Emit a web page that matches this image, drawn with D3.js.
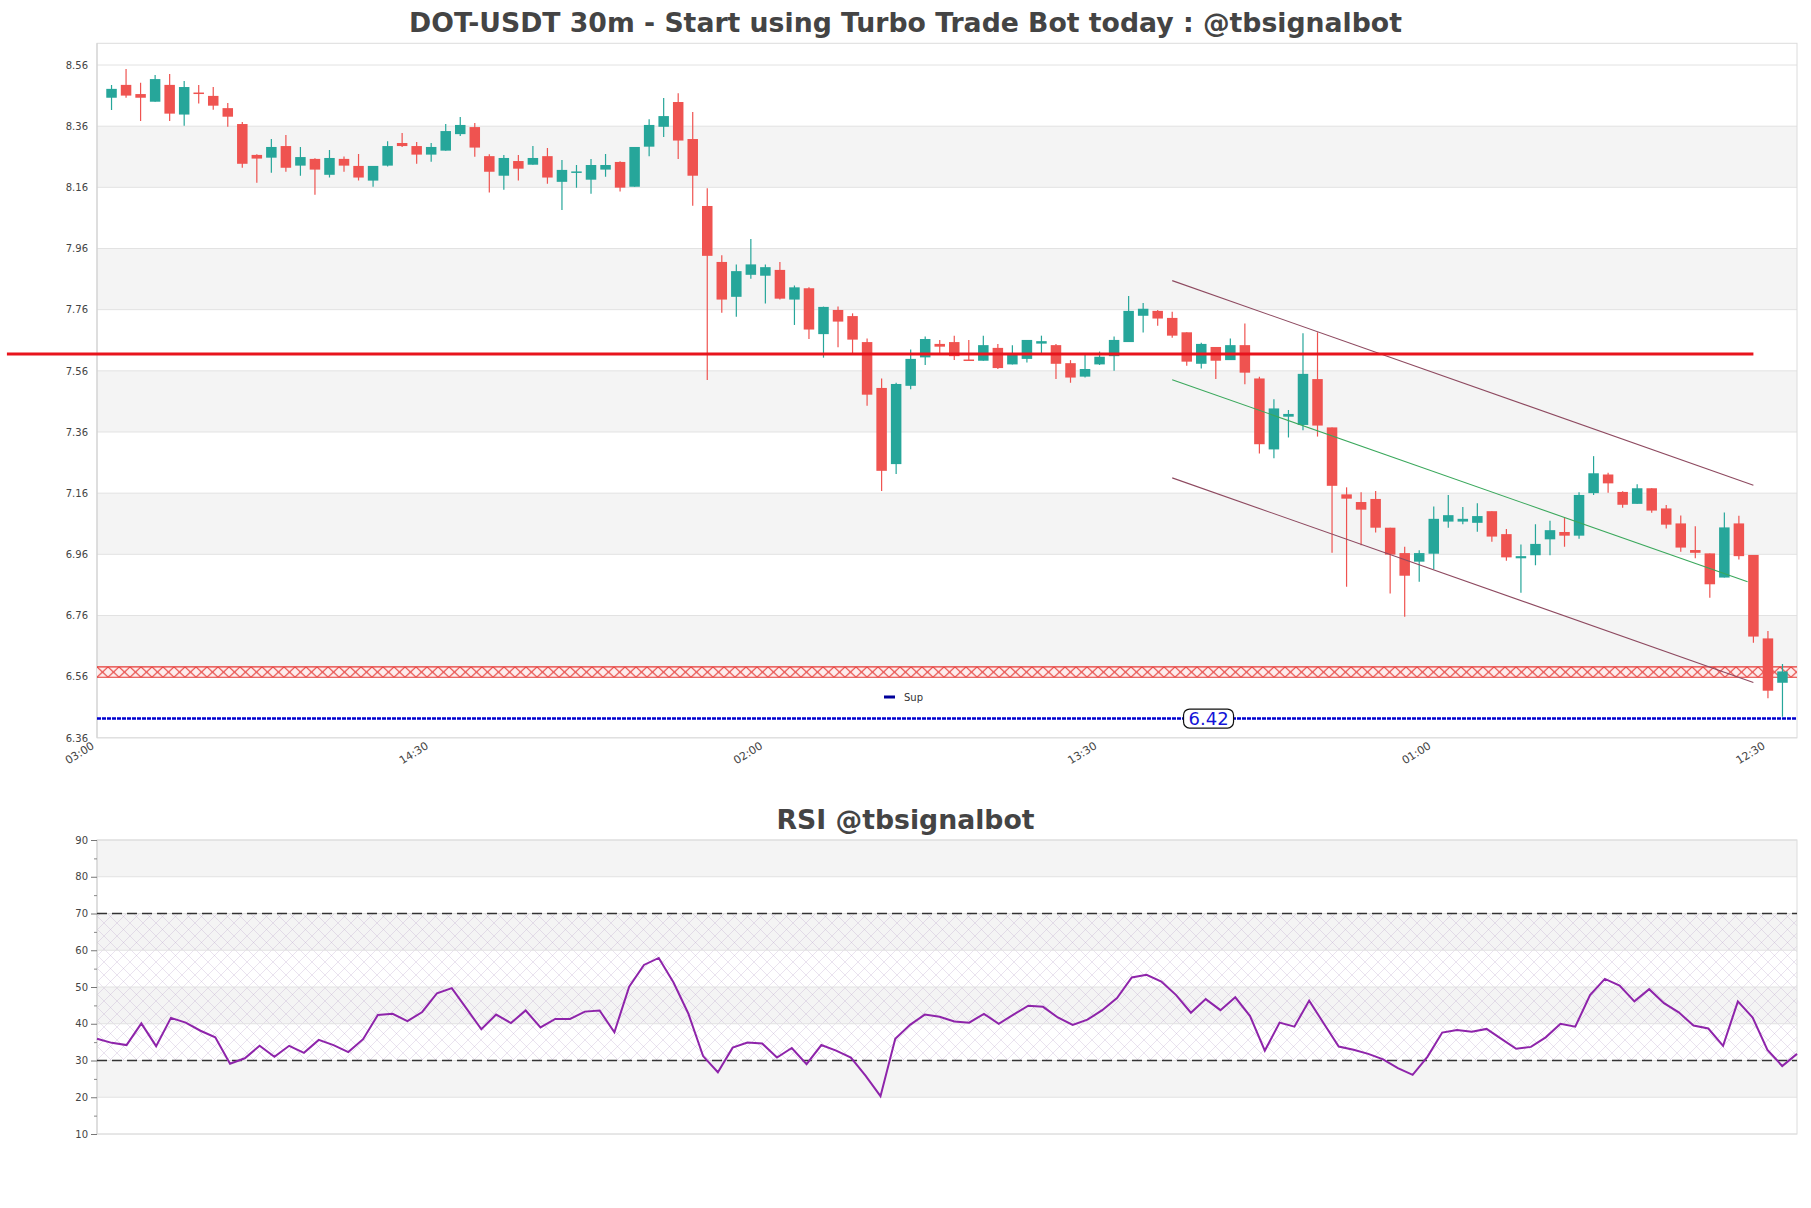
<!DOCTYPE html>
<html><head><meta charset="utf-8">
<script src="https://cdn.jsdelivr.net/npm/d3@7"></script>
<style>body{margin:0;background:#fff;} svg{display:block;font-family:"DejaVu Sans",sans-serif;}</style>
</head><body><svg id="c" width="1811" height="1208"></svg>
<script>
// ---------------- DATA ----------------
const titleText = "DOT-USDT 30m - Start using Turbo Trade Bot today : @tbsignalbot";
const rsiTitleText = "RSI @tbsignalbot";
const tickIdx = [0, 23, 46, 69, 92, 115];
const tickLabels = ["03:00", "14:30", "02:00", "13:30", "01:00", "12:30"];
const priceTicks = [6.36, 6.56, 6.76, 6.96, 7.16, 7.36, 7.56, 7.76, 7.96, 8.16, 8.36, 8.56];
const rsiTicks = [10, 20, 30, 40, 50, 60, 70, 80, 90];
const rsiMinor = [15, 25, 35, 45, 55, 65, 75, 85];
const rsiLevels = [30, 70];

const open = [8.453,8.495,8.465,8.440,8.495,8.398,8.470,8.459,8.419,8.367,
8.266,8.257,8.295,8.231,8.253,8.201,8.253,8.230,8.182,8.231,
8.305,8.295,8.267,8.280,8.334,8.357,8.262,8.198,8.246,8.234,
8.262,8.178,8.208,8.185,8.218,8.243,8.162,8.293,8.358,8.439,
8.318,8.099,7.916,7.802,7.874,7.871,7.890,7.793,7.830,7.680,
7.759,7.739,7.654,7.504,7.255,7.511,7.604,7.648,7.654,7.597,
7.593,7.635,7.581,7.599,7.649,7.644,7.585,7.541,7.581,7.608,
7.654,7.740,7.756,7.733,7.686,7.583,7.638,7.595,7.644,7.535,
7.303,7.410,7.383,7.533,7.375,7.156,7.131,7.141,7.047,6.964,
6.936,6.962,7.067,7.067,7.063,7.101,7.026,6.947,6.957,7.009,
7.033,7.021,7.160,7.221,7.164,7.125,7.176,7.110,7.061,6.974,
6.963,6.884,7.061,6.958,6.685,6.540];
const high = [8.495,8.547,8.502,8.527,8.531,8.508,8.495,8.488,8.436,8.374,
8.268,8.318,8.331,8.292,8.255,8.282,8.261,8.269,8.230,8.311,
8.338,8.308,8.305,8.367,8.390,8.370,8.268,8.266,8.266,8.295,
8.289,8.249,8.233,8.253,8.269,8.245,8.292,8.383,8.452,8.468,
8.406,8.157,7.938,7.908,7.991,7.908,7.916,7.839,7.833,7.770,
7.770,7.748,7.666,7.535,7.521,7.630,7.672,7.661,7.675,7.661,
7.675,7.648,7.644,7.661,7.675,7.648,7.595,7.615,7.623,7.672,
7.805,7.782,7.759,7.753,7.686,7.652,7.638,7.666,7.715,7.541,
7.467,7.432,7.683,7.686,7.375,7.179,7.163,7.167,7.047,6.985,
6.973,7.116,7.154,7.115,7.127,7.101,7.043,6.992,7.058,7.070,
7.080,7.163,7.281,7.227,7.166,7.189,7.176,7.121,7.087,7.052,
6.963,7.097,7.086,6.958,6.709,6.601];
const low = [8.413,8.453,8.377,8.440,8.377,8.361,8.434,8.414,8.358,8.224,
8.175,8.208,8.211,8.198,8.136,8.192,8.211,8.182,8.162,8.228,
8.292,8.237,8.244,8.280,8.328,8.260,8.143,8.152,8.182,8.234,
8.172,8.086,8.159,8.139,8.195,8.146,8.162,8.262,8.325,8.253,
8.100,7.530,7.750,7.737,7.861,7.780,7.793,7.710,7.664,7.603,
7.637,7.612,7.446,7.167,7.223,7.500,7.579,7.615,7.595,7.593,
7.593,7.566,7.581,7.587,7.612,7.533,7.521,7.538,7.579,7.560,
7.654,7.685,7.707,7.668,7.577,7.568,7.533,7.595,7.516,7.290,
7.274,7.342,7.366,7.345,6.965,6.854,6.990,7.031,6.832,6.756,
6.870,6.911,7.047,7.058,7.034,7.001,6.939,6.834,6.924,6.957,
6.985,7.011,7.154,7.161,7.112,7.125,7.096,7.044,6.968,6.947,
6.818,6.884,6.943,6.671,6.489,6.429];
const close = [8.482,8.460,8.453,8.514,8.401,8.488,8.467,8.427,8.391,8.237,
8.254,8.292,8.224,8.259,8.218,8.256,8.231,8.192,8.230,8.295,
8.295,8.267,8.292,8.344,8.364,8.290,8.211,8.256,8.221,8.256,
8.192,8.217,8.212,8.233,8.233,8.159,8.292,8.364,8.393,8.313,
8.198,7.936,7.793,7.886,7.908,7.899,7.796,7.833,7.695,7.769,
7.721,7.662,7.482,7.233,7.517,7.599,7.664,7.639,7.608,7.593,
7.644,7.569,7.615,7.661,7.657,7.583,7.538,7.566,7.606,7.661,
7.756,7.763,7.731,7.675,7.590,7.648,7.593,7.644,7.554,7.320,
7.437,7.419,7.550,7.381,7.184,7.142,7.106,7.047,6.959,6.890,
6.964,7.076,7.088,7.076,7.085,7.018,6.950,6.954,6.994,7.039,
7.021,7.154,7.225,7.192,7.122,7.176,7.103,7.057,6.982,6.965,
6.862,7.048,6.954,6.691,6.514,6.577];
const rsi = [35.9,34.8,34.2,40.1,33.9,41.6,40.3,38.1,36.3,29.1,
30.6,34.0,31.0,34.0,32.1,35.6,34.2,32.3,35.8,42.4,
42.7,40.7,43.2,48.3,49.7,44.1,38.5,42.5,40.2,43.6,
39.0,41.3,41.3,43.3,43.6,37.7,50.1,56.0,57.9,51.2,
42.8,31.2,26.8,33.5,34.9,34.6,30.8,33.4,29.0,34.2,
32.7,30.8,25.8,20.3,35.9,39.7,42.5,41.9,40.6,40.3,
42.7,40.0,42.5,44.9,44.6,41.7,39.7,41.1,43.7,47.0,
52.6,53.3,51.5,47.8,43.0,46.7,43.7,47.2,42.1,32.7,
40.3,39.2,46.3,40.0,33.8,32.9,31.8,30.3,27.9,26.1,
31.0,37.6,38.3,37.8,38.6,35.9,33.2,33.7,36.3,40.0,
39.2,47.8,52.2,50.4,46.1,49.4,45.6,43.1,39.5,38.7,
34.0,46.1,41.7,32.9,28.5,31.8];

const resistanceLevel = 7.615;
const resistanceSpan = [-7.2, 113];
const supportZone = [6.558, 6.592];
const supportLevel = 6.423;
const supportLabel = "6.42";
const supportLabelIdx = 75.5;
const legendName = "Sup";
const channelUpper = [[73, 7.855], [113, 7.186]];
const channelMid = [[73, 7.531], [112.6, 6.870]];
const channelLower = [[73, 7.210], [113, 6.541]];

// ---------------- LAYOUT ----------------
const L = 97, R = 1797;
const T = 43.3, B = 737.8;
const RT = 840, RB = 1134;
const svg = d3.select("#c");
const defs = svg.append("defs");

const x = d3.scaleLinear().domain([-1, 116]).range([L, R]);
const y = d3.scaleLinear().domain([6.36, 8.631]).range([B, T]);
const rx = d3.scaleLinear().domain([0, 115]).range([L, R]);
const ry = d3.scaleLinear().domain([10, 90]).range([RB, RT]);

// patterns
const zTop = y(supportZone[1]), zBot = y(supportZone[0]), zh = zBot - zTop;
const pw = 11;
const pz = defs.append("pattern").attr("id", "zoneHatch").attr("patternUnits", "userSpaceOnUse")
  .attr("x", L).attr("y", zTop).attr("width", pw).attr("height", zh);
pz.append("rect").attr("width", pw).attr("height", zh).attr("fill", "#fdeded");
pz.append("path").attr("d", `M0,0L${pw},${zh}M${pw},0L0,${zh}`).attr("stroke", "#e53935").attr("stroke-width", 1.1).attr("fill", "none");

const ph = defs.append("pattern").attr("id", "rsiHatch").attr("patternUnits", "userSpaceOnUse")
  .attr("width", 13).attr("height", 13);
ph.append("path").attr("d", "M0,0L13,13M13,0L0,13").attr("stroke", "rgba(175,150,195,0.38)").attr("stroke-width", 0.7).attr("fill", "none");

const clip = defs.append("clipPath").attr("id", "mainClip");
clip.append("rect").attr("x", L).attr("y", T).attr("width", R - L).attr("height", B - T);

// ---------------- TITLES ----------------
svg.append("text").attr("x", 905.5).attr("y", 32).attr("text-anchor", "middle")
  .attr("font-size", 26.7).attr("font-weight", "bold").attr("fill", "#444").text(titleText);
svg.append("text").attr("x", 905.5).attr("y", 829).attr("text-anchor", "middle")
  .attr("font-size", 26.7).attr("font-weight", "bold").attr("fill", "#444").text(rsiTitleText);

// ---------------- MAIN CHART ----------------
const main = svg.append("g");
for (let i = 0; i < priceTicks.length - 1; i++) {
  if (i % 2 === 1) {
    main.append("rect").attr("x", L).attr("width", R - L)
      .attr("y", y(priceTicks[i + 1])).attr("height", y(priceTicks[i]) - y(priceTicks[i + 1]))
      .attr("fill", "#f4f4f4");
  }
}
main.selectAll(".grid").data(priceTicks).join("line")
  .attr("x1", L).attr("x2", R).attr("y1", d => y(d)).attr("y2", d => y(d))
  .attr("stroke", "#e2e2e2").attr("stroke-width", 1);
main.append("rect").attr("x", L).attr("y", T).attr("width", R - L).attr("height", B - T)
  .attr("fill", "none").attr("stroke", "#dcdcdc").attr("stroke-width", 1);
main.append("line").attr("x1", L).attr("x2", L).attr("y1", T).attr("y2", B).attr("stroke", "#cfcfcf");

const yAx = main.append("g").attr("transform", `translate(${L},0)`)
  .call(d3.axisLeft(y).tickValues(priceTicks).tickFormat(d3.format(".2f")).tickSize(0).tickPadding(9));
yAx.select(".domain").remove();
yAx.selectAll("text").attr("font-size", 10).attr("fill", "#444").attr("font-family", "DejaVu Sans");

const xAx = main.append("g").attr("transform", `translate(0,${B})`)
  .call(d3.axisBottom(x).tickValues(tickIdx).tickFormat((d, i) => tickLabels[i]).tickSize(0));
xAx.select(".domain").remove();
xAx.selectAll("text").attr("y", 0).attr("dy", 0).attr("text-anchor", "end")
  .attr("transform", "translate(-17,10) rotate(-32)")
  .attr("font-size", 11).attr("fill", "#444").attr("font-family", "DejaVu Sans");

// support zone
main.append("rect").attr("x", L).attr("width", R - L).attr("y", zTop).attr("height", zh)
  .attr("fill", "url(#zoneHatch)");
[zTop, zBot].forEach(v => main.append("line").attr("x1", L).attr("x2", R).attr("y1", v).attr("y2", v)
  .attr("stroke", "#e53935").attr("stroke-width", 1.2));

// candles
const candles = d3.range(open.length).map(i => ({i, o: open[i], h: high[i], l: low[i], c: close[i]}));
const cg = main.append("g").attr("clip-path", "url(#mainClip)");
const bw = 10.5;
cg.selectAll(".wick").data(candles).join("line")
  .attr("x1", d => x(d.i)).attr("x2", d => x(d.i))
  .attr("y1", d => y(d.h)).attr("y2", d => y(d.l))
  .attr("stroke", d => d.c >= d.o ? "#26a69a" : "#ef5350").attr("stroke-width", 1.2);
cg.selectAll(".body").data(candles).join("rect")
  .attr("x", d => x(d.i) - bw / 2).attr("width", bw)
  .attr("y", d => y(Math.max(d.o, d.c)))
  .attr("height", d => Math.max(1.5, Math.abs(y(d.o) - y(d.c))))
  .attr("fill", d => d.c >= d.o ? "#26a69a" : "#ef5350");

// channel lines
const ln = d3.line().x(d => x(d[0])).y(d => y(d[1]));
main.append("path").attr("d", ln(channelUpper)).attr("stroke", "#8e4a60").attr("stroke-width", 1.1).attr("fill", "none");
main.append("path").attr("d", ln(channelLower)).attr("stroke", "#8e4a60").attr("stroke-width", 1.1).attr("fill", "none");
main.append("path").attr("d", ln(channelMid)).attr("stroke", "#3aa85c").attr("stroke-width", 1.1).attr("fill", "none");

// resistance line
main.append("line").attr("x1", x(resistanceSpan[0])).attr("x2", x(resistanceSpan[1]))
  .attr("y1", y(resistanceLevel)).attr("y2", y(resistanceLevel))
  .attr("stroke", "#e8141c").attr("stroke-width", 3);

// support line
main.append("line").attr("x1", L).attr("x2", R).attr("y1", y(supportLevel)).attr("y2", y(supportLevel))
  .attr("stroke", "#0000d0").attr("stroke-width", 2.4).attr("stroke-dasharray", "4,1");
const lab = main.append("g").attr("transform", `translate(${x(supportLabelIdx)},${y(supportLevel)})`);
lab.append("rect").attr("x", -25).attr("y", -9.5).attr("width", 50).attr("height", 19).attr("rx", 6)
  .attr("fill", "#fff").attr("stroke", "#111").attr("stroke-width", 1.2);
lab.append("text").attr("text-anchor", "middle").attr("dy", "0.37em").attr("font-size", 18)
  .attr("fill", "#1515d8").text(supportLabel);

// legend
const lg = main.append("g").attr("transform", "translate(884,697)");
lg.append("rect").attr("x", 0).attr("y", -1.5).attr("width", 11).attr("height", 3).attr("fill", "#00009a");
lg.append("text").attr("x", 20).attr("dy", "0.35em").attr("font-size", 10).attr("fill", "#333").text(legendName);

// ---------------- RSI CHART ----------------
const rg = svg.append("g");
for (let v = 10; v < 90; v += 10) {
  if ((v / 10) % 2 === 0) {
    rg.append("rect").attr("x", L).attr("width", R - L).attr("y", ry(v + 10)).attr("height", ry(v) - ry(v + 10))
      .attr("fill", "#f4f4f4");
  }
}
rg.append("rect").attr("x", L).attr("width", R - L).attr("y", ry(rsiLevels[1])).attr("height", ry(rsiLevels[0]) - ry(rsiLevels[1]))
  .attr("fill", "url(#rsiHatch)");
rg.selectAll(".rgrid").data(rsiTicks).join("line")
  .attr("x1", L).attr("x2", R).attr("y1", d => ry(d)).attr("y2", d => ry(d))
  .attr("stroke", "#e2e2e2");
rg.append("rect").attr("x", L).attr("y", RT).attr("width", R - L).attr("height", RB - RT)
  .attr("fill", "none").attr("stroke", "#dcdcdc");
rg.append("line").attr("x1", L).attr("x2", L).attr("y1", RT).attr("y2", RB).attr("stroke", "#cfcfcf");

const rAx = rg.append("g").attr("transform", `translate(${L},0)`)
  .call(d3.axisLeft(ry).tickValues(rsiTicks).tickSize(6).tickPadding(3));
rAx.select(".domain").remove();
rAx.selectAll("line").attr("stroke", "#777");
rAx.selectAll("text").attr("font-size", 10).attr("fill", "#444").attr("font-family", "DejaVu Sans");
const rMin = rg.append("g").attr("transform", `translate(${L},0)`)
  .call(d3.axisLeft(ry).tickValues(rsiMinor).tickSize(3).tickFormat(""));
rMin.select(".domain").remove();
rMin.selectAll("line").attr("stroke", "#888");

rg.selectAll(".lvl").data(rsiLevels).join("line")
  .attr("x1", L).attr("x2", R).attr("y1", d => ry(d)).attr("y2", d => ry(d))
  .attr("stroke", "#333").attr("stroke-width", 1.3).attr("stroke-dasharray", "10,5");

rg.append("path").datum(rsi)
  .attr("d", d3.line().x((d, i) => rx(i)).y(d => ry(d)))
  .attr("fill", "none").attr("stroke", "#8e24aa").attr("stroke-width", 2);
</script></body></html>
